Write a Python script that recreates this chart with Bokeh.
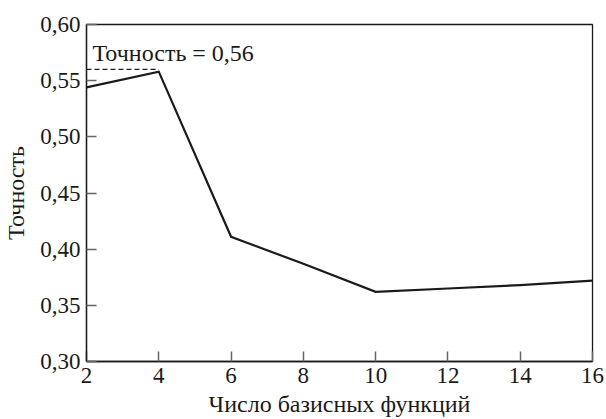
from bokeh.plotting import figure
from bokeh.models import FixedTicker, CustomJSTickFormatter, Range1d, Label
from bokeh.embed import file_html
from bokeh.resources import INLINE

# data
n_basis = [2, 4, 6, 8, 10, 12, 14, 16]
accuracy = [0.544, 0.558, 0.411, 0.387, 0.362, 0.365, 0.368, 0.372]
best_x = [2, 4]
best_y = [0.56, 0.56]
x_ticks = [2, 4, 6, 8, 10, 12, 14, 16]
y_ticks = [0.30, 0.35, 0.40, 0.45, 0.50, 0.55, 0.60]
annotation = "Точность = 0,56"
x_title = "Число базисных функций"
y_title = "Точность"

FONT = "Liberation Serif"

p = figure(width=606, height=419, output_backend="svg", toolbar_location=None,
           x_range=Range1d(2, 16), y_range=Range1d(0.30, 0.60),
           min_border_left=86, min_border_right=14, min_border_top=24, min_border_bottom=56)

p.line(n_basis, accuracy, line_color="#1a1a1a", line_width=2.2, line_join="miter")
p.line(best_x, best_y, line_color="#1a1a1a", line_width=1.2, line_dash="5 3")

lab = Label(x=2, y=0.56, text=annotation, x_offset=6, y_offset=3,
            text_font=FONT, text_font_size="24px", text_color="#1a1a1a",
            text_baseline="bottom")
p.add_layout(lab)

p.grid.visible = False
p.outline_line_color = "#1a1a1a"
p.outline_line_width = 1.3
p.outline_line_alpha = 1.0

for ax in (p.xaxis[0], p.yaxis[0]):
    ax.axis_line_color = "#1a1a1a"
    ax.axis_line_width = 1.3
    ax.major_tick_in = 10
    ax.major_tick_out = 0
    ax.major_tick_line_color = "#666666"
    ax.major_tick_line_width = 1.5
    ax.minor_tick_line_color = None
    ax.major_label_text_font = FONT
    ax.major_label_text_font_size = "23px"
    ax.major_label_text_color = "#1a1a1a"
    ax.axis_label_text_font = FONT
    ax.axis_label_text_font_size = "24px"
    ax.axis_label_text_font_style = "normal"
    ax.axis_label_text_color = "#1a1a1a"

p.xaxis[0].ticker = FixedTicker(ticks=x_ticks)
p.yaxis[0].ticker = FixedTicker(ticks=y_ticks)
p.yaxis[0].formatter = CustomJSTickFormatter(code="return tick.toFixed(2).replace('.', ',');")
p.xaxis[0].major_label_standoff = 6
p.yaxis[0].major_label_standoff = 6
p.xaxis[0].axis_label = x_title
p.yaxis[0].axis_label = y_title
p.xaxis[0].axis_label_standoff = 5
p.yaxis[0].axis_label_standoff = 8

open("out.html", "w").write(file_html(p, INLINE))
